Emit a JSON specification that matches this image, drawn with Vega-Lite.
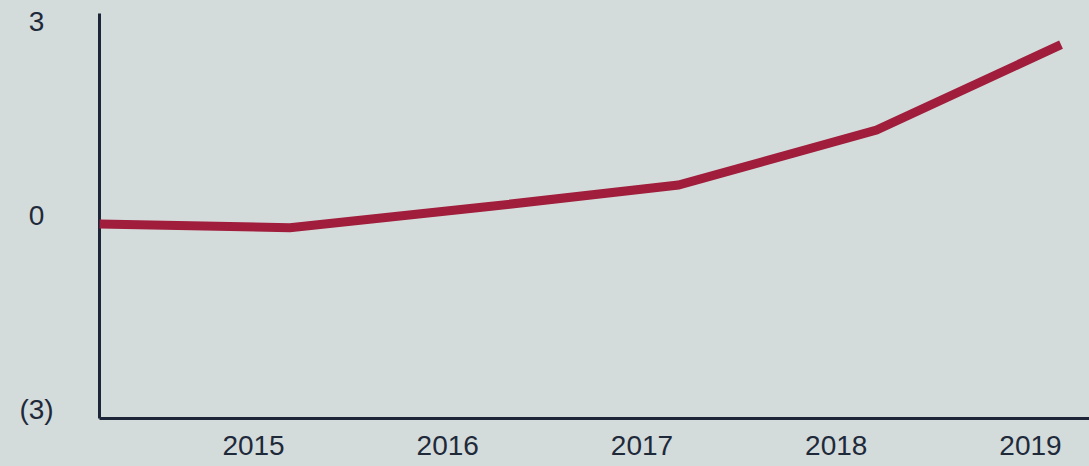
{
  "$schema": "https://vega.github.io/schema/vega-lite/v6.json",
  "autosize": "none",
  "width": 990,
  "height": 405,
  "padding": {"left": 99, "top": 13, "right": 0, "bottom": 48},
  "background": "#d4dbdb",
  "config": {"view": {"stroke": null}},
  "data": {
    "values": [
      {"year": 2014.21, "value": -0.11},
      {"year": 2015.19, "value": -0.17},
      {"year": 2016.19, "value": 0.15},
      {"year": 2017.19, "value": 0.49},
      {"year": 2018.21, "value": 1.34},
      {"year": 2019.16, "value": 2.66}
    ]
  },
  "mark": {"type": "line", "color": "#a01d3c", "strokeWidth": 9, "strokeCap": "butt", "strokeJoin": "miter", "clip": true},
  "encoding": {
    "x": {
      "field": "year",
      "type": "quantitative",
      "scale": {"domain": [2014.207, 2019.304], "nice": false, "zero": false},
      "axis": {
        "title": null,
        "values": [2015, 2016, 2017, 2018, 2019],
        "format": "d",
        "grid": false,
        "ticks": false,
        "tickSize": 0,
        "labelPadding": 28,
        "labelBaseline": "middle",
        "labelFont": "Liberation Sans",
        "labelFontSize": 28,
        "labelColor": "#1e2a3a",
        "domainColor": "#1c2638",
        "domainWidth": 3,
        "labelFlush": false,
        "labelOverlap": false
      }
    },
    "y": {
      "field": "value",
      "type": "quantitative",
      "scale": {"domain": [-3.11, 3.15], "nice": false, "zero": false},
      "axis": {
        "title": null,
        "values": [-3, 0, 3],
        "labelExpr": "datum.value < 0 ? '(' + abs(datum.value) + ')' : '' + datum.value",
        "grid": false,
        "ticks": false,
        "tickSize": 0,
        "labelAlign": "center",
        "labelBaseline": "middle",
        "labelPadding": 63,
        "labelFont": "Liberation Sans",
        "labelFontSize": 28,
        "labelColor": "#1e2a3a",
        "domainColor": "#1c2638",
        "domainWidth": 3,
        "labelFlush": false,
        "labelOverlap": false
      }
    }
  }
}
